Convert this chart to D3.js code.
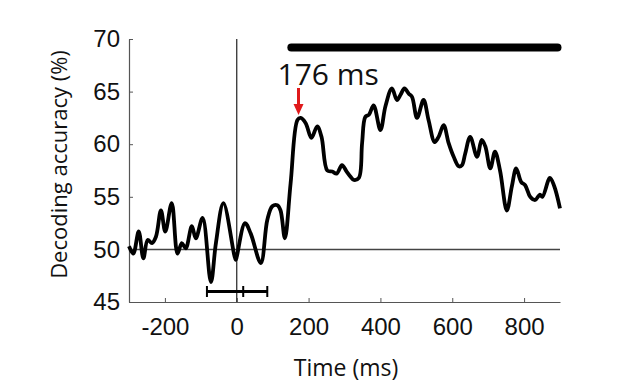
<!DOCTYPE html>
<html>
<head>
<meta charset="utf-8">
<script src="https://cdn.jsdelivr.net/npm/d3@7"></script>
<style>
  body { margin: 0; background: white; }
</style>
</head>
<body>
<div id="plot"></div>
<script>
// decoding accuracy time course

const w = 617;
const h = 389;
const margin = {top: 39, right: 57, bottom: 87, left: 129};

// time points (ms) and accuracy (%)
const times = [-300, -288, -273, -260, -248, -236, -225, -211, -199, -181,
  -165, -153, -142, -125, -114, -95, -72, -58, -37, -3,
  0, 23, 39, 67, 85, 99, 113, 122, 134, 150,
  169, 178, 192, 208, 224, 236, 252, 266, 278, 293,
  306, 317, 326, 340, 349, 358, 368, 381, 400, 414,
  432, 446, 456, 467, 479, 488, 502, 520, 534, 551,
  562, 576, 590, 604, 618, 627, 636, 650, 669, 682,
  692, 706, 719, 733, 752, 766, 778, 792, 803, 817,
  831, 844, 851, 872, 884, 900];
const accuracy = [50.3, 49.6, 51.7, 49.15, 50.9, 50.6, 51.2, 53.7, 51.7, 54.4,
  49.6, 50.6, 50.1, 52.2, 51.05, 53.0, 46.9, 50.6, 54.4, 49.0,
  49.3, 52.5, 51.5, 48.7, 52.8, 54.1, 54.2, 53.7, 51.05, 56.3,
  62.3, 62.5, 62.0, 60.6, 61.7, 60.7, 57.5, 57.4, 57.2, 58.0,
  57.4, 56.9, 56.6, 56.8, 60.1, 62.6, 62.8, 63.7, 61.35, 63.6,
  65.3, 64.2, 64.7, 65.3, 64.8, 64.5, 62.5, 64.2, 62.3, 60.2,
  60.7, 61.8, 60.1, 58.8, 57.9, 58.0, 59.1, 60.7, 58.8, 60.4,
  59.8, 57.7, 59.3, 57.5, 53.7, 56.0, 57.7, 56.4, 56.1, 55.0,
  54.7, 55.2, 55.0, 56.8, 56.0, 53.9];

const xTicks = [-200, 0, 200, 400, 600, 800];
const yTicks = [45, 50, 55, 60, 65, 70];

const chance = 50;
const sigWindow = [152, 893];      // significant period bar
const sigLevel = 69.2;
const onsetErr = [-83, 18, 85];    // onset error bar: low, mean, high
const onsetLevel = 46;
const peakTime = 172;
const peakLabel = "176 ms";

const svg = d3.select("div#plot")
  .append("svg")
  .attr("width", w)
  .attr("height", h);

svg.append("rect")
  .attr("width", w)
  .attr("height", h)
  .attr("fill", "white");

const xScale = d3.scaleLinear()
  .domain([-300, 900])
  .range([margin.left, w - margin.right]);

const yScale = d3.scaleLinear()
  .domain([45, 70])
  .range([h - margin.bottom, margin.top]);

// axes (plain hyphen for negatives, like the original)
const xAxis = svg.append("g")
  .attr("transform", `translate(0, ${h - margin.bottom})`)
  .call(d3.axisBottom(xScale).tickValues(xTicks).tickFormat(d => String(d))
    .tickSize(-4).tickPadding(16).tickSizeOuter(0));

const yAxis = svg.append("g")
  .attr("transform", `translate(${margin.left}, 0)`)
  .call(d3.axisLeft(yScale).tickValues(yTicks).tickFormat(d => String(d))
    .tickSize(-4).tickPadding(9).tickSizeOuter(0));

[xAxis, yAxis].forEach(g => {
  g.select(".domain").attr("stroke", "#555").attr("stroke-width", 1.2);
  g.selectAll(".tick line").attr("stroke", "#555");
  g.selectAll(".tick text")
    .attr("fill", "#111")
    .style("font-family", "'Liberation Sans', Arial, sans-serif")
    .style("font-size", "24px");
});

// chance line
svg.append("line")
  .attr("x1", xScale(-300))
  .attr("x2", xScale(900))
  .attr("y1", yScale(chance))
  .attr("y2", yScale(chance))
  .attr("stroke", "#444")
  .attr("stroke-width", 1.5);

// stimulus onset
svg.append("line")
  .attr("x1", xScale(0))
  .attr("x2", xScale(0))
  .attr("y1", yScale(70))
  .attr("y2", yScale(45))
  .attr("stroke", "#222")
  .attr("stroke-width", 1.2);

// accuracy line
const line = d3.line()
  .x((d, i) => xScale(times[i]))
  .y(d => yScale(d))
  .curve(d3.curveCatmullRom.alpha(0.5));

svg.append("path")
  .attr("d", line(accuracy))
  .attr("fill", "none")
  .attr("stroke", "black")
  .attr("stroke-width", 3.8)
  .attr("stroke-linejoin", "round");

// significance bar
svg.append("line")
  .attr("x1", xScale(sigWindow[0]))
  .attr("x2", xScale(sigWindow[1]))
  .attr("y1", yScale(sigLevel))
  .attr("y2", yScale(sigLevel))
  .attr("stroke", "black")
  .attr("stroke-width", 8)
  .attr("stroke-linecap", "round");

// onset error bar
const errY = yScale(onsetLevel);
svg.append("line")
  .attr("x1", xScale(onsetErr[0]))
  .attr("x2", xScale(onsetErr[2]))
  .attr("y1", errY)
  .attr("y2", errY)
  .attr("stroke", "black")
  .attr("stroke-width", 3);
svg.selectAll(".errtick")
  .data(onsetErr)
  .enter()
  .append("line")
  .attr("class", "errtick")
  .attr("x1", d => xScale(d))
  .attr("x2", d => xScale(d))
  .attr("y1", errY - 5.5)
  .attr("y2", errY + 5.5)
  .attr("stroke", "black")
  .attr("stroke-width", 2);

// peak arrow + label
const ax = xScale(peakTime);
svg.append("line")
  .attr("x1", ax)
  .attr("x2", ax)
  .attr("y1", 88)
  .attr("y2", 106)
  .attr("stroke", "#e0191b")
  .attr("stroke-width", 3);
svg.append("path")
  .attr("d", `M${ax - 5},104 L${ax + 5},104 L${ax},115 Z`)
  .attr("fill", "#e0191b");

svg.append("text")
  .attr("x", ax - 21)
  .attr("y", 85)
  .attr("fill", "#111")
  .style("font-family", "'Open Sans', sans-serif")
  .style("font-size", "30px")
  .text(peakLabel);

// axis titles
svg.append("text")
  .attr("x", 346)
  .attr("y", 376)
  .attr("text-anchor", "middle")
  .attr("fill", "#111")
  .style("font-family", "'Open Sans', sans-serif")
  .style("font-size", "23px")
  .text("Time (ms)");

svg.append("text")
  .attr("transform", "translate(67, 164.5) rotate(-90)")
  .attr("text-anchor", "middle")
  .attr("fill", "#111")
  .style("font-family", "'Open Sans', sans-serif")
  .style("font-size", "22px")
  .text("Decoding accuracy (%)");
</script>
</body>
</html>
